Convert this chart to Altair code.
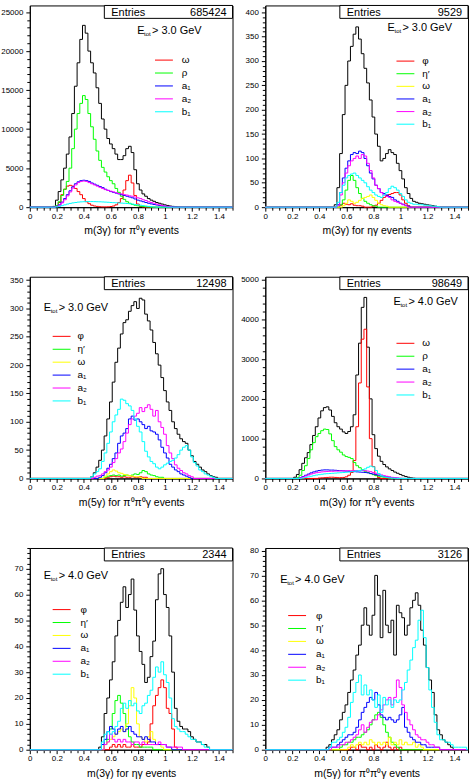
import altair as alt
import pandas as pd

FONT = "Liberation Sans"
BIN = 0.02
XMAX = 1.5
W, H = 204, 203

RED = "#ff0000"
GREEN = "#00ff00"
YELLOW = "#ffff00"
BLUE = "#0000ff"
MAGENTA = "#ff00ff"
CYAN = "#00ffff"
BLACK = "#000000"

# ---------------- m(3g) for pi0 gamma, Etot > 3.0 GeV ----------------
P1_TOTAL_X0 = 0.18
P1_TOTAL = [100, 900, 2000, 3500, 5000, 6800, 9000, 12000, 15500, 18500, 21500, 23300,
            22300, 20000, 18500, 17200, 15300, 13300, 11300, 10000, 8800, 8100, 7500, 6800,
            6100, 6100, 6600, 7500, 7800, 7000, 4800, 3000, 2200, 1700, 1400, 1100, 900, 750,
            600, 500, 400, 300, 220, 150, 100, 60, 30]
P1_OMEGA_X0 = 0.20
P1_OMEGA = [100, 600, 1600, 2300, 2700, 2800, 2700, 2400, 2000, 1600, 1100, 700, 450, 250,
            150, 100, 60, 40, 40, 50, 80, 150, 300, 600, 1100, 2200, 3400, 4100, 3100, 1500,
            400, 100, 30]
P1_RHO_X0 = 0.20
P1_RHO = [200, 700, 1500, 2300, 3300, 5000, 7500, 10000, 12000, 13300, 14300, 13800, 12000,
          10300, 8700, 7200, 6000, 5100, 4500, 3900, 3400, 3000, 2400, 1900, 1400, 1000, 700,
          500, 350, 250, 180, 120, 80, 50, 30]
P1_A1_X0 = 0.20
P1_A1 = [100, 300, 650, 1100, 1600, 2100, 2600, 3000, 3250, 3400, 3450, 3400, 3300, 3100,
         2950, 2800, 2650, 2500, 2300, 2150, 2000, 1900, 1800, 1700, 1600, 1500, 1400, 1300,
         1200, 1050, 900, 800, 700, 600, 500, 420, 350, 280, 220, 170, 130, 90, 60, 30]
P1_A2_X0 = 0.20
P1_A2 = [80, 250, 550, 950, 1450, 1950, 2450, 2850, 3150, 3300, 3350, 3300, 3150, 3000,
         2850, 2700, 2550, 2400, 2250, 2150, 2050, 1950, 1850, 1750, 1700, 1600, 1550, 1450,
         1400, 1300, 1200, 1100, 950, 850, 700, 600, 500, 400, 300, 220, 150, 100, 50]
P1_B1_X0 = 0.20
P1_B1 = [30, 100, 200, 300, 400, 480, 550, 600, 650, 680, 700, 720, 720, 720, 710, 700, 690,
         670, 650, 630, 600, 580, 560, 540, 520, 500, 470, 440, 400, 350, 300, 250, 200, 150,
         100, 60, 30]

# ---------------- m(3g) for eta gamma, Etot > 3.0 GeV ----------------
P2_TOTAL_X0 = 0.52
P2_TOTAL = [5, 40, 110, 190, 250, 300, 330, 355, 370, 345, 315, 285, 255, 220, 185, 150, 125,
            95, 100, 110, 118, 112, 108, 90, 75, 58, 40, 28, 18, 12, 10, 8, 7, 6, 5, 4, 3, 2, 1]
P2_PHI_X0 = 0.56
P2_PHI = [4, 8, 6, 5, 7, 4, 3, 3, 2, 0, 0, 0, 2, 4, 8, 14, 20, 24, 26, 28, 30, 30, 25, 15, 8, 3]
P2_ETAP_X0 = 0.56
P2_ETAP = [5, 15, 35, 55, 65, 55, 40, 28, 18, 12, 8, 5, 3, 2]
P2_OMEGA_X0 = 0.58
P2_OMEGA = [3, 8, 15, 12, 8, 10, 14, 18, 20, 22, 25, 20, 14, 8, 5, 3, 2]
P2_A1_X0 = 0.54
P2_A1 = [5, 30, 60, 80, 95, 108, 112, 110, 115, 112, 100, 85, 70, 58, 45, 38, 30, 28, 25, 22,
         20, 15, 12, 8, 6, 4, 2]
P2_A2_X0 = 0.54
P2_A2 = [3, 25, 50, 70, 85, 95, 100, 105, 100, 108, 105, 90, 75, 60, 45, 38, 30, 25, 22, 20,
         15, 12, 10, 8, 5, 3]
P2_B1_X0 = 0.54
P2_B1 = [10, 30, 45, 60, 65, 68, 70, 65, 60, 55, 50, 42, 35, 30, 25, 22, 20, 25, 30, 38, 43,
         40, 35, 28, 22, 15, 10, 8, 6, 6, 5, 5, 4, 4, 3, 2, 2, 1]

# ---------------- m(5g) for pi0 pi0 gamma, Etot > 3.0 GeV ----------------
P3_TOTAL_X0 = 0.46
P3_TOTAL = [3, 10, 20, 32, 50, 75, 105, 135, 170, 205, 230, 255, 275, 280, 295, 305, 312, 300,
            318, 315, 290, 278, 262, 240, 220, 200, 178, 155, 135, 120, 100, 88, 78, 70, 65,
            62, 50, 40, 30, 25, 20, 15, 12, 8, 5, 3, 2]
P3_PHI_X0 = 0.58
P3_PHI = [2, 3, 4, 3, 3, 2, 3, 2, 2, 3, 2, 2, 3, 2, 2]
P3_ETAP_X0 = 0.56
P3_ETAP = [2, 4, 5, 6, 5, 6, 4, 5, 6, 5, 6, 8, 7, 10, 14, 12, 8, 6, 5, 3, 2, 2]
P3_OMEGA_X0 = 0.56
P3_OMEGA = [4, 8, 12, 15, 13, 10, 9, 7, 6, 5, 4, 3, 3, 2]
P3_A1_X0 = 0.52
P3_A1 = [2, 5, 10, 18, 25, 35, 45, 62, 75, 80, 88, 105, 110, 103, 105, 100, 95, 88, 92, 84,
         82, 78, 68, 55, 45, 36, 25, 20, 15, 12, 8, 6, 4, 2]
P3_A2_X0 = 0.48
P3_A2 = [2, 4, 5, 8, 12, 15, 20, 28, 35, 45, 52, 65, 80, 95, 105, 110, 115, 125, 118, 125,
         130, 122, 110, 120, 100, 90, 78, 58, 45, 35, 24, 18, 14, 10, 8, 5, 3]
P3_B1_X0 = 0.46
P3_B1 = [3, 8, 12, 17, 30, 45, 62, 82, 100, 112, 122, 140, 138, 132, 128, 120, 105, 92, 82,
         65, 48, 38, 30, 26, 20, 17, 20, 24, 27, 30, 32, 36, 42, 50, 55, 58, 50, 38, 28, 22,
         15, 12, 8, 6, 4, 2]

# ---------------- m(3g) for pi0 gamma, Etot > 4.0 GeV ----------------
P4_TOTAL_X0 = 0.22
P4_TOTAL = [30, 100, 220, 380, 520, 650, 850, 1080, 1300, 1520, 1700, 1780, 1800, 1720, 1560,
            1400, 1300, 1240, 1170, 1130, 1180, 1300, 1600, 2600, 3400, 4300, 4550, 3300, 2000,
            1100, 750, 560, 430, 350, 290, 240, 200, 160, 130, 100, 70, 50, 30, 15, 5]
P4_OMEGA_X0 = 0.40
P4_OMEGA = [10, 15, 20, 25, 30, 30, 25, 20, 20, 25, 40, 80, 150, 450, 1300, 2400, 3500, 3750,
            2300, 1000, 300, 80, 20]
P4_RHO_X0 = 0.24
P4_RHO = [20, 80, 200, 320, 500, 720, 900, 1050, 1130, 1200, 1240, 1230, 1120, 950, 800, 720,
          660, 590, 550, 530, 500, 400, 320, 270, 220, 180, 150, 120, 95, 70, 55, 40, 30, 20,
          12, 5]
P4_A1_X0 = 0.26
P4_A1 = [20, 50, 80, 110, 140, 165, 185, 200, 210, 215, 215, 210, 210, 205, 200, 195, 190,
         185, 180, 175, 170, 165, 160, 155, 150, 140, 125, 110, 95, 80, 65, 50, 40, 30, 20,
         12, 6]
P4_A2_X0 = 0.26
P4_A2 = [15, 35, 60, 85, 110, 130, 145, 155, 165, 170, 175, 180, 180, 185, 185, 190, 190, 190,
         195, 195, 200, 200, 200, 200, 195, 185, 170, 150, 130, 110, 90, 70, 55, 40, 28, 18,
         10, 5]
P4_B1_X0 = 0.28
P4_B1 = [10, 25, 40, 55, 70, 85, 95, 105, 115, 120, 125, 130, 135, 140, 145, 150, 155, 160,
         170, 180, 190, 200, 215, 240, 280, 310, 290, 200, 120, 70, 40, 25, 15, 8, 4]

# ---------------- m(3g) for eta gamma, Etot > 4.0 GeV ----------------
P5_TOTAL_X0 = 0.52
P5_TOTAL = [1, 5, 14, 20, 27, 34, 44, 50, 57, 63, 55, 60, 66, 54, 44, 38, 33, 26, 28, 36, 42,
            58, 68, 70, 60, 55, 44, 30, 16, 11, 9, 8, 8, 7, 5, 4, 3, 3, 2, 2, 1]
P5_PHI_X0 = 0.60
P5_PHI = [1, 2, 1, 2, 1, 2, 1, 1, 2, 1, 1, 1, 2, 2, 3, 10, 17, 21, 24, 27, 24, 16, 14, 8, 1]
P5_ETAP_X0 = 0.56
P5_ETAP = [2, 4, 8, 14, 19, 21, 18, 14, 9, 5, 3, 2, 2, 1, 1, 1, 1, 1]
P5_OMEGA_X0 = 0.56
P5_OMEGA = [2, 3, 4, 5, 6, 7, 8, 7, 10, 17, 24, 20, 10, 5, 4, 3, 5, 7, 4, 2, 2, 1]
P5_A1_X0 = 0.54
P5_A1 = [2, 4, 7, 9, 8, 6, 8, 9, 7, 8, 9, 7, 6, 5, 5, 4, 5, 4, 3, 3, 2, 2, 2, 2, 1, 1]
P5_A2_X0 = 0.56
P5_A2 = [2, 3, 6, 4, 3, 4, 3, 4, 3, 3, 2, 3, 3, 2, 3, 2, 2, 2, 2, 2, 3, 2, 2, 1, 1, 1, 1, 1, 1]
P5_B1_X0 = 0.54
P5_B1 = [3, 6, 7, 6, 7, 9, 11, 16, 18, 16, 19, 17, 18, 15, 14, 17, 18, 21, 23, 28, 32, 30, 34,
         29, 26, 20, 12, 9, 8, 7, 7, 6, 5, 4, 4, 3, 3, 2, 1, 1]

# ---------------- m(5g) for pi0 pi0 gamma, Etot > 4.0 GeV ----------------
P6_TOTAL_X0 = 0.46
P6_TOTAL = [1, 2, 4, 6, 8, 12, 15, 18, 23, 28, 32, 38, 42, 50, 57, 50, 46, 54, 70, 62, 45, 64,
            50, 47, 52, 38, 58, 55, 53, 46, 50, 57, 60, 63, 58, 48, 42, 33, 28, 23, 14, 8, 6,
            4, 3, 2, 1]
P6_PHI_X0 = 0.64
P6_PHI = [1, 1, 0, 2, 1, 1, 0, 1, 0, 2, 1, 0, 1, 3, 1, 0, 1, 0, 1]
P6_ETAP_X0 = 0.56
P6_ETAP = [1, 2, 2, 3, 3, 4, 5, 5, 6, 7, 8, 10, 12, 14, 15, 13, 10, 7, 5, 3, 2, 1]
P6_OMEGA_X0 = 0.62
P6_OMEGA = [1, 2, 1, 2, 3, 2, 3, 2, 4, 3, 2, 3, 2, 3, 2, 5, 2, 3, 2, 4, 2, 3, 2, 2, 3, 1, 2, 1]
P6_A1_X0 = 0.48
P6_A1 = [1, 1, 1, 2, 3, 4, 5, 6, 6, 7, 9, 12, 15, 17, 19, 21, 20, 23, 18, 14, 13, 12, 13, 12,
         11, 12, 14, 17, 9, 7, 5, 4, 3, 3, 2, 2, 1, 1, 1, 1, 1]
P6_A2_X0 = 0.50
P6_A2 = [1, 1, 1, 2, 2, 3, 3, 4, 5, 6, 8, 10, 7, 9, 11, 12, 12, 14, 16, 18, 20, 21, 18, 21, 28,
         25, 18, 15, 12, 10, 8, 6, 5, 4, 4, 3, 2, 2, 1, 1]
P6_B1_X0 = 0.48
P6_B1 = [1, 3, 3, 4, 5, 7, 9, 13, 19, 23, 27, 30, 22, 26, 22, 24, 20, 17, 22, 15, 21, 18, 20,
         17, 20, 19, 20, 24, 27, 32, 36, 41, 44, 52, 56, 45, 33, 24, 17, 11, 6, 4, 4, 3, 3, 2,
         1, 1, 1, 1, 1]

LEGEND_PI0 = [("ω", RED), ("ρ", GREEN), ("a₁", BLUE), ("a₂", MAGENTA), ("b₁", CYAN)]
LEGEND_ETA = [("φ", RED), ("η′", GREEN), ("ω", YELLOW), ("a₁", BLUE), ("a₂", MAGENTA), ("b₁", CYAN)]

XTICKS = [round(0.05 * k, 2) for k in range(31)]


def hist_frame(first_center, counts):
    """Step outline of a histogram over the full 0..1.5 range."""
    lo = first_center - BIN / 2
    pts = [(0.0, 0)]
    for i, c in enumerate(counts):
        pts.append((round(lo + i * BIN, 4), c))
    pts.append((round(lo + len(counts) * BIN, 4), 0))
    pts.append((XMAX, 0))
    return pd.DataFrame(pts, columns=["m", "n"])


def one_row():
    return pd.DataFrame({"k": [0]})


def text_at(x, y, txt, size=11, align="left", baseline="alphabetic"):
    return alt.Chart(one_row()).mark_text(
        text=txt, align=align, baseline=baseline, font=FONT, fontSize=size, color="black"
    ).encode(x=alt.value(x), y=alt.value(y))


def panel(cfg, anchor=False):
    xscale = alt.Scale(domain=[0, XMAX], nice=False, zero=False)
    yscale = alt.Scale(domain=[0, cfg["ymax"]], nice=False, zero=True)
    major, minor = cfg["ymajor"], cfg["yminor"]
    yvals = list(range(0, int(cfg["ymax"]) + 1, minor))

    xaxis = alt.Axis(
        values=XTICKS,
        labelExpr="round(datum.value*20) % 4 == 0 ? format(datum.value, '.1~f') : ''",
        title=cfg["title"], titleY=27, titleBaseline="alphabetic",
        grid=False, labelPadding=1, labelFlush=False, labelOverlap=False,
        tickSize={"condition": {"test": "round(datum.value*20) % 4 == 0", "value": 4}, "value": 3},
    )
    yaxis = alt.Axis(
        values=yvals,
        labelExpr=f"datum.value % {major} == 0 ? format(datum.value, 'd') : ''",
        title=None, grid=False, labelPadding=3, labelFlush=False, labelOverlap=False,
        tickSize={"condition": {"test": f"datum.value % {major} == 0", "value": 4}, "value": 3},
    )

    layers = []
    for color, x0, counts in cfg["series"]:
        layers.append(
            alt.Chart(hist_frame(x0, counts)).mark_line(
                interpolate="step-after", color=color, strokeWidth=1
            ).encode(
                x=alt.X("m:Q", scale=xscale, axis=xaxis),
                y=alt.Y("n:Q", scale=yscale, axis=yaxis),
            )
        )

    # statistics box
    layers.append(
        alt.Chart(one_row()).mark_rect(fill="white", stroke="black", strokeWidth=1).encode(
            x=alt.value(75), x2=alt.value(W), y=alt.value(0), y2=alt.value(13)
        )
    )
    layers.append(text_at(82, 10.5, "Entries"))
    layers.append(text_at(198, 10.5, cfg["entries"], align="right"))

    # energy cut label
    ex, ey = cfg["ecut_pos"]
    layers.append(text_at(ex, ey, "E", size=11))
    layers.append(text_at(ex + 7, ey + 2, "tot", size=6))
    layers.append(text_at(ex + 15, ey, f"> {cfg['ecut']} GeV", size=11))

    # legend
    lx0, ltx, ly0, ldy = cfg["legend_pos"]
    for i, (lab, col) in enumerate(cfg["legend"]):
        y = ly0 + i * ldy
        layers.append(
            alt.Chart(one_row()).mark_rule(color=col, strokeWidth=1).encode(
                x=alt.value(lx0), x2=alt.value(lx0 + 18), y=alt.value(y)
            )
        )
        layers.append(text_at(ltx, y, lab, size=10, baseline="middle"))

    if anchor:
        layers.append(
            alt.Chart(one_row()).mark_rule(strokeOpacity=0, color="white").encode(
                x=alt.value(-29), y=alt.value(0), y2=alt.value(2)
            )
        )

    return alt.layer(*layers).properties(width=W, height=H)


PANELS = [
    dict(series=[(BLACK, P1_TOTAL_X0, P1_TOTAL), (RED, P1_OMEGA_X0, P1_OMEGA),
                 (GREEN, P1_RHO_X0, P1_RHO), (BLUE, P1_A1_X0, P1_A1),
                 (MAGENTA, P1_A2_X0, P1_A2), (CYAN, P1_B1_X0, P1_B1)],
         legend=LEGEND_PI0, ymax=25850, ymajor=5000, yminor=1000,
         title="m(3γ) for π⁰γ events", entries="685424", ecut="3.0",
         ecut_pos=(108, 29), legend_pos=(126, 153, 55, 13)),
    dict(series=[(BLACK, P2_TOTAL_X0, P2_TOTAL), (RED, P2_PHI_X0, P2_PHI),
                 (GREEN, P2_ETAP_X0, P2_ETAP), (YELLOW, P2_OMEGA_X0, P2_OMEGA),
                 (BLUE, P2_A1_X0, P2_A1), (MAGENTA, P2_A2_X0, P2_A2), (CYAN, P2_B1_X0, P2_B1)],
         legend=LEGEND_ETA, ymax=414, ymajor=50, yminor=10,
         title="m(3γ) for ηγ events", entries="9529", ecut="3.0",
         ecut_pos=(123, 26), legend_pos=(132, 158, 56, 12.7)),
    dict(series=[(BLACK, P3_TOTAL_X0, P3_TOTAL), (RED, P3_PHI_X0, P3_PHI),
                 (GREEN, P3_ETAP_X0, P3_ETAP), (YELLOW, P3_OMEGA_X0, P3_OMEGA),
                 (BLUE, P3_A1_X0, P3_A1), (MAGENTA, P3_A2_X0, P3_A2), (CYAN, P3_B1_X0, P3_B1)],
         legend=LEGEND_ETA, ymax=356, ymajor=50, yminor=10,
         title="m(5γ) for π⁰π⁰γ events", entries="12498", ecut="3.0",
         ecut_pos=(14, 34), legend_pos=(23, 48, 60, 13)),
    dict(series=[(BLACK, P4_TOTAL_X0, P4_TOTAL), (RED, P4_OMEGA_X0, P4_OMEGA),
                 (GREEN, P4_RHO_X0, P4_RHO), (BLUE, P4_A1_X0, P4_A1),
                 (MAGENTA, P4_A2_X0, P4_A2), (CYAN, P4_B1_X0, P4_B1)],
         legend=LEGEND_PI0, ymax=5070, ymajor=1000, yminor=200,
         title="m(3γ) for π⁰γ events", entries="98649", ecut="4.0",
         ecut_pos=(129, 28), legend_pos=(132, 158, 67, 13)),
    dict(series=[(BLACK, P5_TOTAL_X0, P5_TOTAL), (RED, P5_PHI_X0, P5_PHI),
                 (GREEN, P5_ETAP_X0, P5_ETAP), (YELLOW, P5_OMEGA_X0, P5_OMEGA),
                 (BLUE, P5_A1_X0, P5_A1), (MAGENTA, P5_A2_X0, P5_A2), (CYAN, P5_B1_X0, P5_B1)],
         legend=LEGEND_ETA, ymax=78, ymajor=10, yminor=2,
         title="m(3γ) for ηγ events", entries="2344", ecut="4.0",
         ecut_pos=(14, 31), legend_pos=(23, 51, 62, 13)),
    dict(series=[(BLACK, P6_TOTAL_X0, P6_TOTAL), (RED, P6_PHI_X0, P6_PHI),
                 (GREEN, P6_ETAP_X0, P6_ETAP), (YELLOW, P6_OMEGA_X0, P6_OMEGA),
                 (BLUE, P6_A1_X0, P6_A1), (MAGENTA, P6_A2_X0, P6_A2), (CYAN, P6_B1_X0, P6_B1)],
         legend=LEGEND_ETA, ymax=81, ymajor=10, yminor=2,
         title="m(5γ) for π⁰π⁰γ events", entries="3126", ecut="4.0",
         ecut_pos=(15, 35), legend_pos=(23, 51, 68, 13)),
]

charts = [panel(cfg, anchor=(i == 0)) for i, cfg in enumerate(PANELS)]

# 3 x 2 grid; spacing measured between plot frames
chart = alt.concat(
    *charts, columns=2, spacing={"row": 70, "column": 33}, bounds="flush"
).properties(
    padding=0, background="white"
).configure_axis(
    labelFont=FONT, labelFontSize=8, labelColor="black",
    titleFont=FONT, titleFontSize=10.5, titleFontWeight="normal", titleColor="black",
    domainColor="black", domainWidth=1, tickColor="black", tickWidth=1,
).configure_view(stroke="black", strokeWidth=1)

chart.save("out.html", embed_options={"renderer": "svg", "actions": False})
